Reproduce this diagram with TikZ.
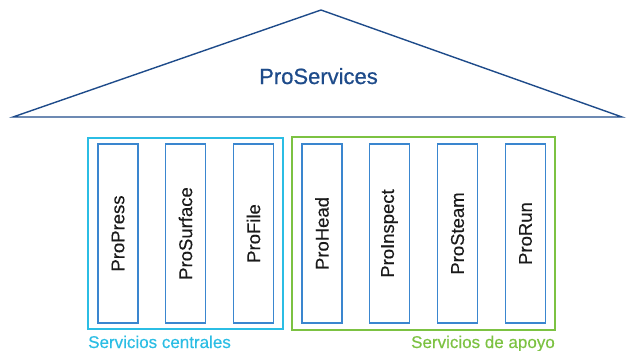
\documentclass[tikz,border=0pt]{standalone}
\usepackage{fontspec}
\setmainfont{Liberation Sans}
\definecolor{navy}{HTML}{1E4B8A}
\definecolor{cyanbox}{HTML}{2BBDE4}
\definecolor{greenbox}{HTML}{7CC242}
\definecolor{colblue}{HTML}{3A86CF}
\definecolor{coltext}{HTML}{1A1A1A}
\begin{document}
\begin{tikzpicture}[x=1pt,y=-1pt,
  colbox/.style={draw=colblue, line width=1.4pt, rotate=90, minimum width=179pt, minimum height=40pt,
    inner sep=0pt, text=coltext, font=\fontsize{18.5}{20}\selectfont\addfontfeature{FakeBold=0.3}},
  groupbox/.style={draw, line width=1.4pt, inner sep=0pt},
  grouplabel/.style={inner sep=0pt, font=\fontsize{17}{19}\selectfont\addfontfeature{FakeBold=0.4}}]
\useasboundingbox (0,0) rectangle (630,351);
% roof
\coordinate (apex) at (321,10);
\coordinate (bl) at (13,117);
\coordinate (br) at (622,117);
\draw[navy, line width=1.4pt, line join=miter] (bl) -- (apex) -- (br) -- cycle;
\node[inner sep=0pt, anchor=base, text=navy, font=\fontsize{22}{24}\selectfont\addfontfeature{FakeBold=0.7}] (title) at (318.5,84) {ProServices};
% groups
\node[groupbox, draw=cyanbox, minimum width=195pt, minimum height=191pt] (core) at (185.5,233.5) {};
\node[groupbox, draw=greenbox, minimum width=263pt, minimum height=193pt] (support) at (423.5,233.5) {};
% columns
\node[colbox] (press) at (118,233.5) {ProPress};
\node[colbox] (surface) at (185.5,233.5) {ProSurface};
\node[colbox] (file) at (253.5,233.5) {ProFile};
\node[colbox] (head) at (322,233.5) {ProHead};
\node[colbox] (inspect) at (389.5,233.5) {ProInspect};
\node[colbox] (steam) at (457.5,233.5) {ProSteam};
\node[colbox] (run) at (525.5,233.5) {ProRun};
% labels
\node[grouplabel, text=cyanbox, anchor=base west] (corelabel) at (88,348) {Servicios centrales};
\node[grouplabel, text=greenbox, anchor=base east] (supportlabel) at (555,348) {Servicios de apoyo};
\end{tikzpicture}
\end{document}
